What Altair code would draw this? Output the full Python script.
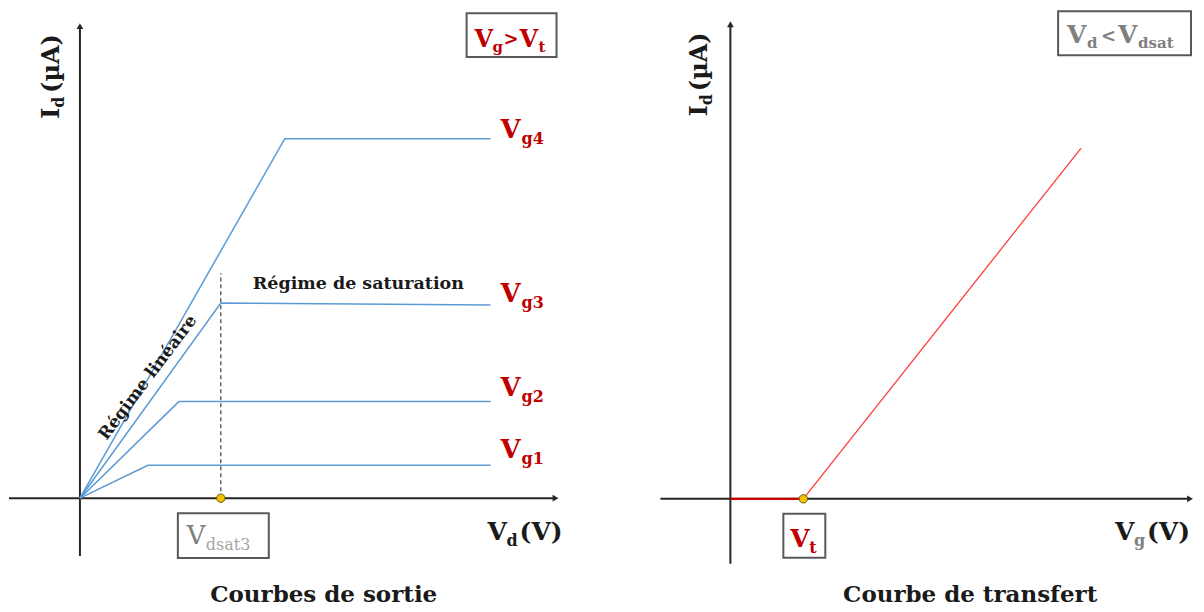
import altair as alt
import pandas as pd

# ---------------- data (arbitrary units) ----------------
# Output characteristics Id(Vd) for four gate voltages
curve_names = ["Vg1", "Vg2", "Vg3", "Vg4"]
vd_sat = [6.8, 9.9, 14.1, 20.5]      # Vd where saturation starts
id_sat = [3.3, 9.7, 19.6, 36.1]      # Id at saturation onset
id_end = [3.3, 9.7, 19.4, 36.1]      # Id at end of sweep
vd_end = 41.1                        # end of Vd sweep
vdsat3 = 14.1                        # marked Vdsat of Vg3 curve
vdsat3_guide_top = 22.6

# Transfer characteristic Id(Vg)
vt = 7.3
vg_end = 35.1
id_transfer_end = 35.1

FONT = "DejaVu Serif"
BLUE = "#5b9bd5"
RED = "#c00000"
BRIGHT_RED = "#ff3b3b"
AXIS = "#262626"
BOX = "#595959"
GRAY = "#808080"
LGRAY = "#a6a6a6"
INK = "#1a1a1a"

# scales (one per panel)
sxL = alt.Scale(domain=[-7.1, 56.9], nice=False, zero=False)
syL = alt.Scale(domain=[-10.6, 49.2], nice=False, zero=False)
sxR = alt.Scale(domain=[-8.2, 46.6], nice=False, zero=False)
syR = alt.Scale(domain=[-10.5, 49.1], nice=False, zero=False)


def X(f, s):
    return alt.X(f, type="quantitative", scale=s, axis=None)


def Y(f, s):
    return alt.Y(f, type="quantitative", scale=s, axis=None)


def hrule(x0, x1, y, sx, sy, color, width, dash=None):
    df = pd.DataFrame({"x0": [x0], "x1": [x1], "y": [y]})
    kw = dict(color=color, strokeWidth=width)
    if dash:
        kw["strokeDash"] = dash
    return alt.Chart(df).mark_rule(**kw).encode(x=X("x0", sx), x2="x1", y=Y("y", sy))


def vrule(x, y0, y1, sx, sy, color, width, dash=None):
    df = pd.DataFrame({"x": [x], "y0": [y0], "y1": [y1]})
    kw = dict(color=color, strokeWidth=width)
    if dash:
        kw["strokeDash"] = dash
    return alt.Chart(df).mark_rule(**kw).encode(x=X("x", sx), y=Y("y0", sy), y2="y1")


def arrow(x, y, shape, sx, sy):
    df = pd.DataFrame({"x": [x], "y": [y]})
    return alt.Chart(df).mark_point(shape=shape, filled=True, size=45, color=AXIS, opacity=1).encode(
        x=X("x", sx), y=Y("y", sy))


def box(x0, x1, y0, y1, sx, sy):
    df = pd.DataFrame({"x0": [x0], "x1": [x1], "y0": [y0], "y1": [y1]})
    return alt.Chart(df).mark_rect(fillOpacity=0, stroke=BOX, strokeWidth=2).encode(
        x=X("x0", sx), x2="x1", y=Y("y0", sy), y2="y1")


def dot(x, y, sx, sy):
    df = pd.DataFrame({"x": [x], "y": [y]})
    return alt.Chart(df).mark_point(filled=True, size=70, color="#f2c200", stroke="#6b5a00",
                                    strokeWidth=1, opacity=1).encode(x=X("x", sx), y=Y("y", sy))


def texts(rows, sx, sy, weight="bold", align="left", baseline="alphabetic"):
    df = pd.DataFrame(rows, columns=["x", "y", "text", "size", "color", "angle"])
    return alt.Chart(df).mark_text(font=FONT, fontWeight=weight, align=align, baseline=baseline).encode(
        x=X("x", sx), y=Y("y", sy), text="text:N",
        size=alt.Size("size:Q", scale=None, legend=None),
        color=alt.Color("color:N", scale=None, legend=None),
        angle=alt.Angle("angle:Q", scale=None))


# ---------------- left panel: output curves ----------------
rows = []
for n, xs, ys, ye in zip(curve_names, vd_sat, id_sat, id_end):
    rows += [(n, 0, 0.0, 0.0), (n, 1, xs, ys), (n, 2, vd_end, ye)]
curves = pd.DataFrame(rows, columns=["curve", "k", "vd", "id"])
curve_layer = alt.Chart(curves).mark_line(color=BLUE, strokeWidth=1.5).encode(
    x=X("vd", sxL), y=Y("id", syL), detail="curve:N", order="k:Q")

lbl_rows = []
v_base = [4.0, 10.3, 19.7, 36.2]
for n, yb in zip(curve_names, v_base):
    lbl_rows.append((42.1, yb, n[0], 26, RED, 0))
    lbl_rows.append((44.2, yb - 0.6, n[1:], 16, RED, 0))

left_bold = texts(lbl_rows + [
    (17.3, 21.0, "Régime de saturation", 17.5, INK, 0),
    # Vg>Vt box
    (39.5, 45.3, "V", 24, RED, 0), (41.3, 44.8, "g", 15, RED, 0),
    (42.4, 45.5, ">", 18, RED, 0), (44.0, 45.3, "V", 24, RED, 0), (45.9, 44.8, "t", 15, RED, 0),
    # x title
    (40.8, -4.2, "V", 25, INK, 0), (42.7, -4.8, "d", 16, INK, 0),
    (44.0, -4.2, "(V)", 25, INK, 0),
    # y title (rotated)
    (-2.1, 38.1, "I", 24, INK, 270), (-1.6, 39.2, "d", 16, INK, 270),
    (-2.1, 40.7, "(\u00b5A)", 24, INK, 270),
], sxL, syL)

left_reg = texts([
    (10.7, -4.6, "V", 26, GRAY, 0), (12.6, -5.2, "dsat3", 16, LGRAY, 0),
], sxL, syL, weight="normal")

left_center = texts([
    (24.4, -10.4, "Courbes de sortie", 23, INK, 0),
], sxL, syL, align="center")

left_rot = texts([
    (6.8, 12.1, "Régime linéaire", 17, INK, 307),
], sxL, syL, align="center", baseline="middle")

left = alt.layer(
    hrule(-7.1, 47.6, 0, sxL, syL, AXIS, 2),
    vrule(0, -5.8, 47.4, sxL, syL, AXIS, 2),
    arrow(47.6, 0, "triangle-right", sxL, syL),
    arrow(0, 47.4, "triangle-up", sxL, syL),
    curve_layer,
    vrule(vdsat3, 0, vdsat3_guide_top, sxL, syL, "#404040", 1.2, [4, 3]),
    dot(vdsat3, 0, sxL, syL),
    box(9.8, 18.9, -1.5, -6.0, sxL, syL),
    box(38.7, 47.7, 48.7, 44.3, sxL, syL),
    left_bold, left_reg, left_center, left_rot,
).properties(width=640, height=596)

# ---------------- right panel: transfer curve ----------------
transfer = pd.DataFrame({"vg": [vt, vg_end], "id": [0.0, id_transfer_end]})
transfer_layer = alt.Chart(transfer).mark_line(color=BRIGHT_RED, strokeWidth=1.3).encode(
    x=X("vg", sxR), y=Y("id", syR))

right_bold = texts([
    # Vt box
    (6.0, -4.8, "V", 25, RED, 0), (7.9, -5.4, "t", 16, RED, 0),
    # Vd < Vdsat box
    (33.7, 45.6, "V", 25, GRAY, 0), (35.7, 45.1, "d", 15, GRAY, 0),
    (37.1, 45.7, "<", 18, GRAY, 0), (38.8, 45.6, "V", 25, GRAY, 0),
    (40.8, 45.1, "dsat", 15, GRAY, 0),
    # x title
    (38.5, -4.1, "V", 25, INK, 0), (40.4, -4.7, "g", 16, GRAY, 0),
    (41.7, -4.1, "(V)", 25, INK, 0),
    # y title (rotated)
    (-2.3, 38.3, "I", 24, INK, 270), (-1.8, 39.4, "d", 16, INK, 270),
    (-2.3, 40.8, "(\u00b5A)", 24, INK, 270),
], sxR, syR)

right_center = texts([
    (24.0, -10.3, "Courbe de transfert", 23, INK, 0),
], sxR, syR, align="center")

right = alt.layer(
    hrule(-7.0, 46.0, 0, sxR, syR, AXIS, 2),
    vrule(0, -6.5, 47.5, sxR, syR, AXIS, 2),
    arrow(46.0, 0, "triangle-right", sxR, syR),
    arrow(0, 47.5, "triangle-up", sxR, syR),
    hrule(0, vt, 0, sxR, syR, "#d00000", 2.2),
    transfer_layer,
    dot(vt, 0, sxR, syR),
    box(5.3, 9.5, -1.5, -5.9, sxR, syR),
    box(32.8, 46.1, 48.8, 44.4, sxR, syR),
    right_bold, right_center,
).properties(width=548, height=596)

chart = alt.hconcat(left, right, spacing=0).properties(padding=0).configure_view(stroke=None)

chart.save("out.html", embed_options={"renderer": "svg", "actions": False})
